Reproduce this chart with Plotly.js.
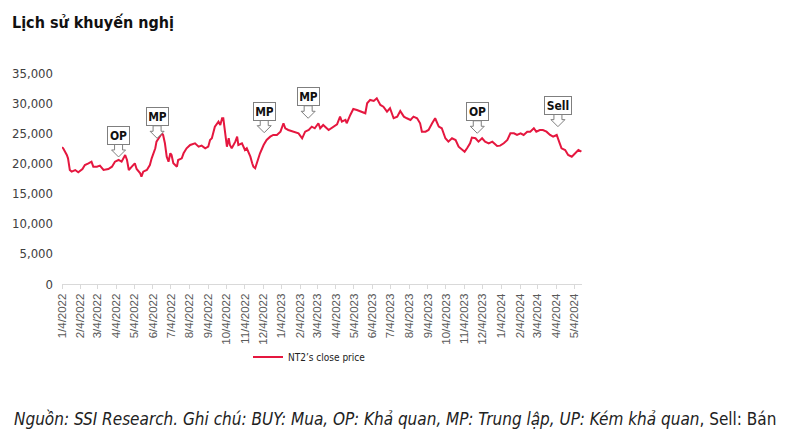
<!DOCTYPE html>
<html>
<head>
<meta charset="utf-8">
<script src="https://cdn.plot.ly/plotly-3.0.1.min.js"></script>
<style>
html,body{margin:0;padding:0;background:#fff;}
#chart{width:799px;height:446px;}
</style>
</head>
<body>
<div id="chart"></div>
<script>
const FONT = '"DejaVu Sans Condensed", "Liberation Sans Narrow", "Arial Narrow", sans-serif';

const seriesName = "NT2\u2019s close price";

const priceDates = [
"2022-01-04","2022-01-06","2022-01-12","2022-01-14","2022-01-17","2022-01-20","2022-01-26","2022-01-31",
"2022-02-07","2022-02-11","2022-02-17","2022-02-22","2022-02-25","2022-03-03","2022-03-08","2022-03-14",
"2022-03-22","2022-03-28","2022-04-02","2022-04-08","2022-04-13","2022-04-16","2022-04-19","2022-04-22",
"2022-04-25","2022-04-30","2022-05-05","2022-05-08","2022-05-14","2022-05-16","2022-05-19","2022-05-25",
"2022-05-30","2022-06-02","2022-06-08","2022-06-10","2022-06-16","2022-06-19","2022-06-21","2022-06-24",
"2022-06-27","2022-06-30","2022-07-03","2022-07-05","2022-07-08","2022-07-14","2022-07-16","2022-07-22",
"2022-07-25","2022-07-30","2022-08-05","2022-08-13","2022-08-19","2022-08-24","2022-08-30","2022-09-04",
"2022-09-07","2022-09-10","2022-09-15","2022-09-21","2022-09-24","2022-09-27","2022-09-29","2022-10-02",
"2022-10-05","2022-10-08","2022-10-10","2022-10-13","2022-10-19","2022-10-22","2022-10-24","2022-10-30",
"2022-11-02","2022-11-04","2022-11-07","2022-11-13","2022-11-16","2022-11-18","2022-11-21","2022-11-24",
"2022-11-29","2022-12-05","2022-12-10","2022-12-16","2022-12-21","2022-12-27","2023-01-02","2023-01-07",
"2023-01-10","2023-01-15","2023-01-24","2023-02-01","2023-02-07","2023-02-12","2023-02-18","2023-02-23",
"2023-02-28","2023-03-06","2023-03-09","2023-03-14","2023-03-23","2023-03-31","2023-04-06","2023-04-11",
"2023-04-14","2023-04-20","2023-04-22","2023-04-28","2023-05-03","2023-05-09","2023-05-17","2023-05-23",
"2023-05-26","2023-05-31","2023-06-06","2023-06-11","2023-06-17","2023-06-22","2023-06-28","2023-07-03",
"2023-07-09","2023-07-15","2023-07-20","2023-07-26","2023-07-31","2023-08-06","2023-08-11","2023-08-17",
"2023-08-22","2023-08-25","2023-08-31","2023-09-05","2023-09-11","2023-09-16","2023-09-22","2023-09-27",
"2023-10-03","2023-10-08","2023-10-14","2023-10-20","2023-10-25","2023-10-31","2023-11-04","2023-11-08",
"2023-11-13","2023-11-16","2023-11-22","2023-11-27","2023-12-03","2023-12-08","2023-12-14","2023-12-20",
"2023-12-25","2023-12-28","2024-01-02","2024-01-08","2024-01-14","2024-01-19","2024-01-25","2024-01-30",
"2024-02-05","2024-02-10","2024-02-16","2024-02-21","2024-02-27","2024-03-02","2024-03-08","2024-03-13",
"2024-03-19","2024-03-25","2024-03-30","2024-04-05","2024-04-10","2024-04-13","2024-04-19","2024-04-24",
"2024-04-30","2024-05-05","2024-05-11","2024-05-16"
];

const closePrices = [
22700,22510,21400,20850,18900,18630,18900,18530,
19080,19740,20020,20290,19460,19460,19630,18910,
19080,19460,20290,20570,20290,20850,21400,20570,
18910,19460,20020,19080,18360,17800,18630,18910,
19740,20850,22510,23610,24440,25000,24720,23340,
21120,20290,21680,21400,20020,19460,20570,20850,
21680,22510,23060,23340,22780,22950,22510,22780,
23890,24170,26100,26930,26380,27490,27490,24720,
22780,24170,23060,22510,23610,24440,23060,23340,
22510,22230,22510,21120,20020,19460,19190,20290,
21680,23060,23890,24440,24720,24720,25270,26660,
25830,25550,25270,25000,24170,25270,25550,26100,
25830,26660,25830,26380,25550,26100,26490,27760,
26930,27210,26660,28040,29030,28870,28590,28320,
29980,30530,30360,30810,29700,29420,28590,29150,
27490,27760,28700,27760,27490,27210,27760,27490,
26660,25270,25270,25550,26660,27490,26100,25830,
24170,23610,24170,23890,22780,22230,21950,22510,
23340,24280,24170,23610,24170,23610,23340,23610,
23170,22900,22950,23340,23890,25000,25000,24720,
25000,24720,25270,25270,25830,25270,25550,25550,
25270,24720,24440,24720,23340,22510,22230,21400,
21120,21680,22230,21950
];

const tickDates = [
"2022-01-04","2022-02-04","2022-03-04","2022-04-04","2022-05-04","2022-06-04","2022-07-04",
"2022-08-04","2022-09-04","2022-10-04","2022-11-04","2022-12-04","2023-01-04","2023-02-04",
"2023-03-04","2023-04-04","2023-05-04","2023-06-04","2023-07-04","2023-08-04","2023-09-04",
"2023-10-04","2023-11-04","2023-12-04","2024-01-04","2024-02-04","2024-03-04","2024-04-04","2024-05-04"
];
const tickLabels = [
"1/4/2022","2/4/2022","3/4/2022","4/4/2022","5/4/2022","6/4/2022","7/4/2022",
"8/4/2022","9/4/2022","10/4/2022","11/4/2022","12/4/2022","1/4/2023","2/4/2023",
"3/4/2023","4/4/2023","5/4/2023","6/4/2023","7/4/2023","8/4/2023","9/4/2023",
"10/4/2023","11/4/2023","12/4/2023","1/4/2024","2/4/2024","3/4/2024","4/4/2024","5/4/2024"
];

const yTickVals = [0,5000,10000,15000,20000,25000,30000,35000];

const recDates  = ["2022-04-08","2022-06-11","2022-12-06","2023-02-17","2023-11-25","2024-04-07"];
const recPrices = [21070,24170,25100,27490,25000,26100];
const recLabels = ["OP","MP","MP","MP","OP","Sell"];

const RED = '#e5173f';
const GREY = '#7f7f7f';

const trace = {
  x: priceDates, y: closePrices, type: 'scatter', mode: 'lines',
  name: seriesName,
  line: {color: RED, width: 2}
};

const annotations = recLabels.map((t,i)=>({
  xref:'x', yref:'y', x: recDates[i], y: recPrices[i],
  text: '<b>'+t+'</b>', showarrow:false,
  xanchor:'center', yanchor:'bottom', yshift: 12,
  font:{family:FONT, size:12, color:'#111'},
  bgcolor:'#fff', bordercolor:GREY, borderwidth:1, borderpad:1.5,
  width: t.length>2 ? 23 : 18
}));

annotations.push({
  xref:'paper', yref:'paper', x: (12-62)/520, y: (284-419)/211,
  xanchor:'left', yanchor:'middle', showarrow:false,
  text:'<i>Nguồn: SSI Research. Ghi chú: BUY: Mua, OP: Khả quan, MP: Trung lập, UP: Kém khả quan</i>, Sell: Bán',
  font:{family:FONT, size:17, color:'#222'}
});

const shapes = recDates.map((d,i)=>({
  type:'path', xref:'x', yref:'y', xsizemode:'pixel', ysizemode:'pixel',
  xanchor: d, yanchor: recPrices[i],
  path:'M0,0 L-7,7 L-4,7 L-4,12.5 L4,12.5 L4,7 L7,7 Z',
  fillcolor:'#fff', line:{color:GREY, width:1}, layer:'above'
}));

const layout = {
  width:799, height:446,
  margin:{l:62, r:217, t:73, b:162},
  paper_bgcolor:'#fff', plot_bgcolor:'#fff',
  font:{family:FONT, color:'#404040'},
  title:{text:'<b>Lịch sử khuyến nghị</b>', font:{family:FONT, size:16, color:'#111'},
         xref:'container', yref:'container', x:12/799, xanchor:'left', y:1-22/446, yanchor:'middle'},
  xaxis:{
    type:'date', range:['2022-01-04','2024-05-17'],
    tickmode:'array', tickvals:tickDates, ticktext:tickLabels, tickangle:-90,
    tickfont:{family:'"Liberation Sans", Arial, sans-serif', size:11.5, color:'#595959'},
    showline:true, linecolor:'#d9d9d9', linewidth:1,
    ticks:'outside', ticklen:4, tickcolor:'#d9d9d9',
    showgrid:false, zeroline:false, fixedrange:true
  },
  yaxis:{
    range:[0,35000], tickmode:'array', tickvals:yTickVals, tickformat:',d',
    tickfont:{family:FONT, size:13, color:'#404040'},
    showline:false, showgrid:false, zeroline:false, ticks:'', ticklabelstandoff:8
  },
  showlegend:true,
  legend:{x:(248-62)/520, xanchor:'left', y:(284-357)/211, yanchor:'middle',
          orientation:'h', font:{family:FONT, size:10, color:'#222'}, bgcolor:'rgba(0,0,0,0)'},
  annotations: annotations,
  shapes: shapes
};

Plotly.newPlot('chart', [trace], layout, {displayModeBar:false, staticPlot:true});
</script>
</body>
</html>
